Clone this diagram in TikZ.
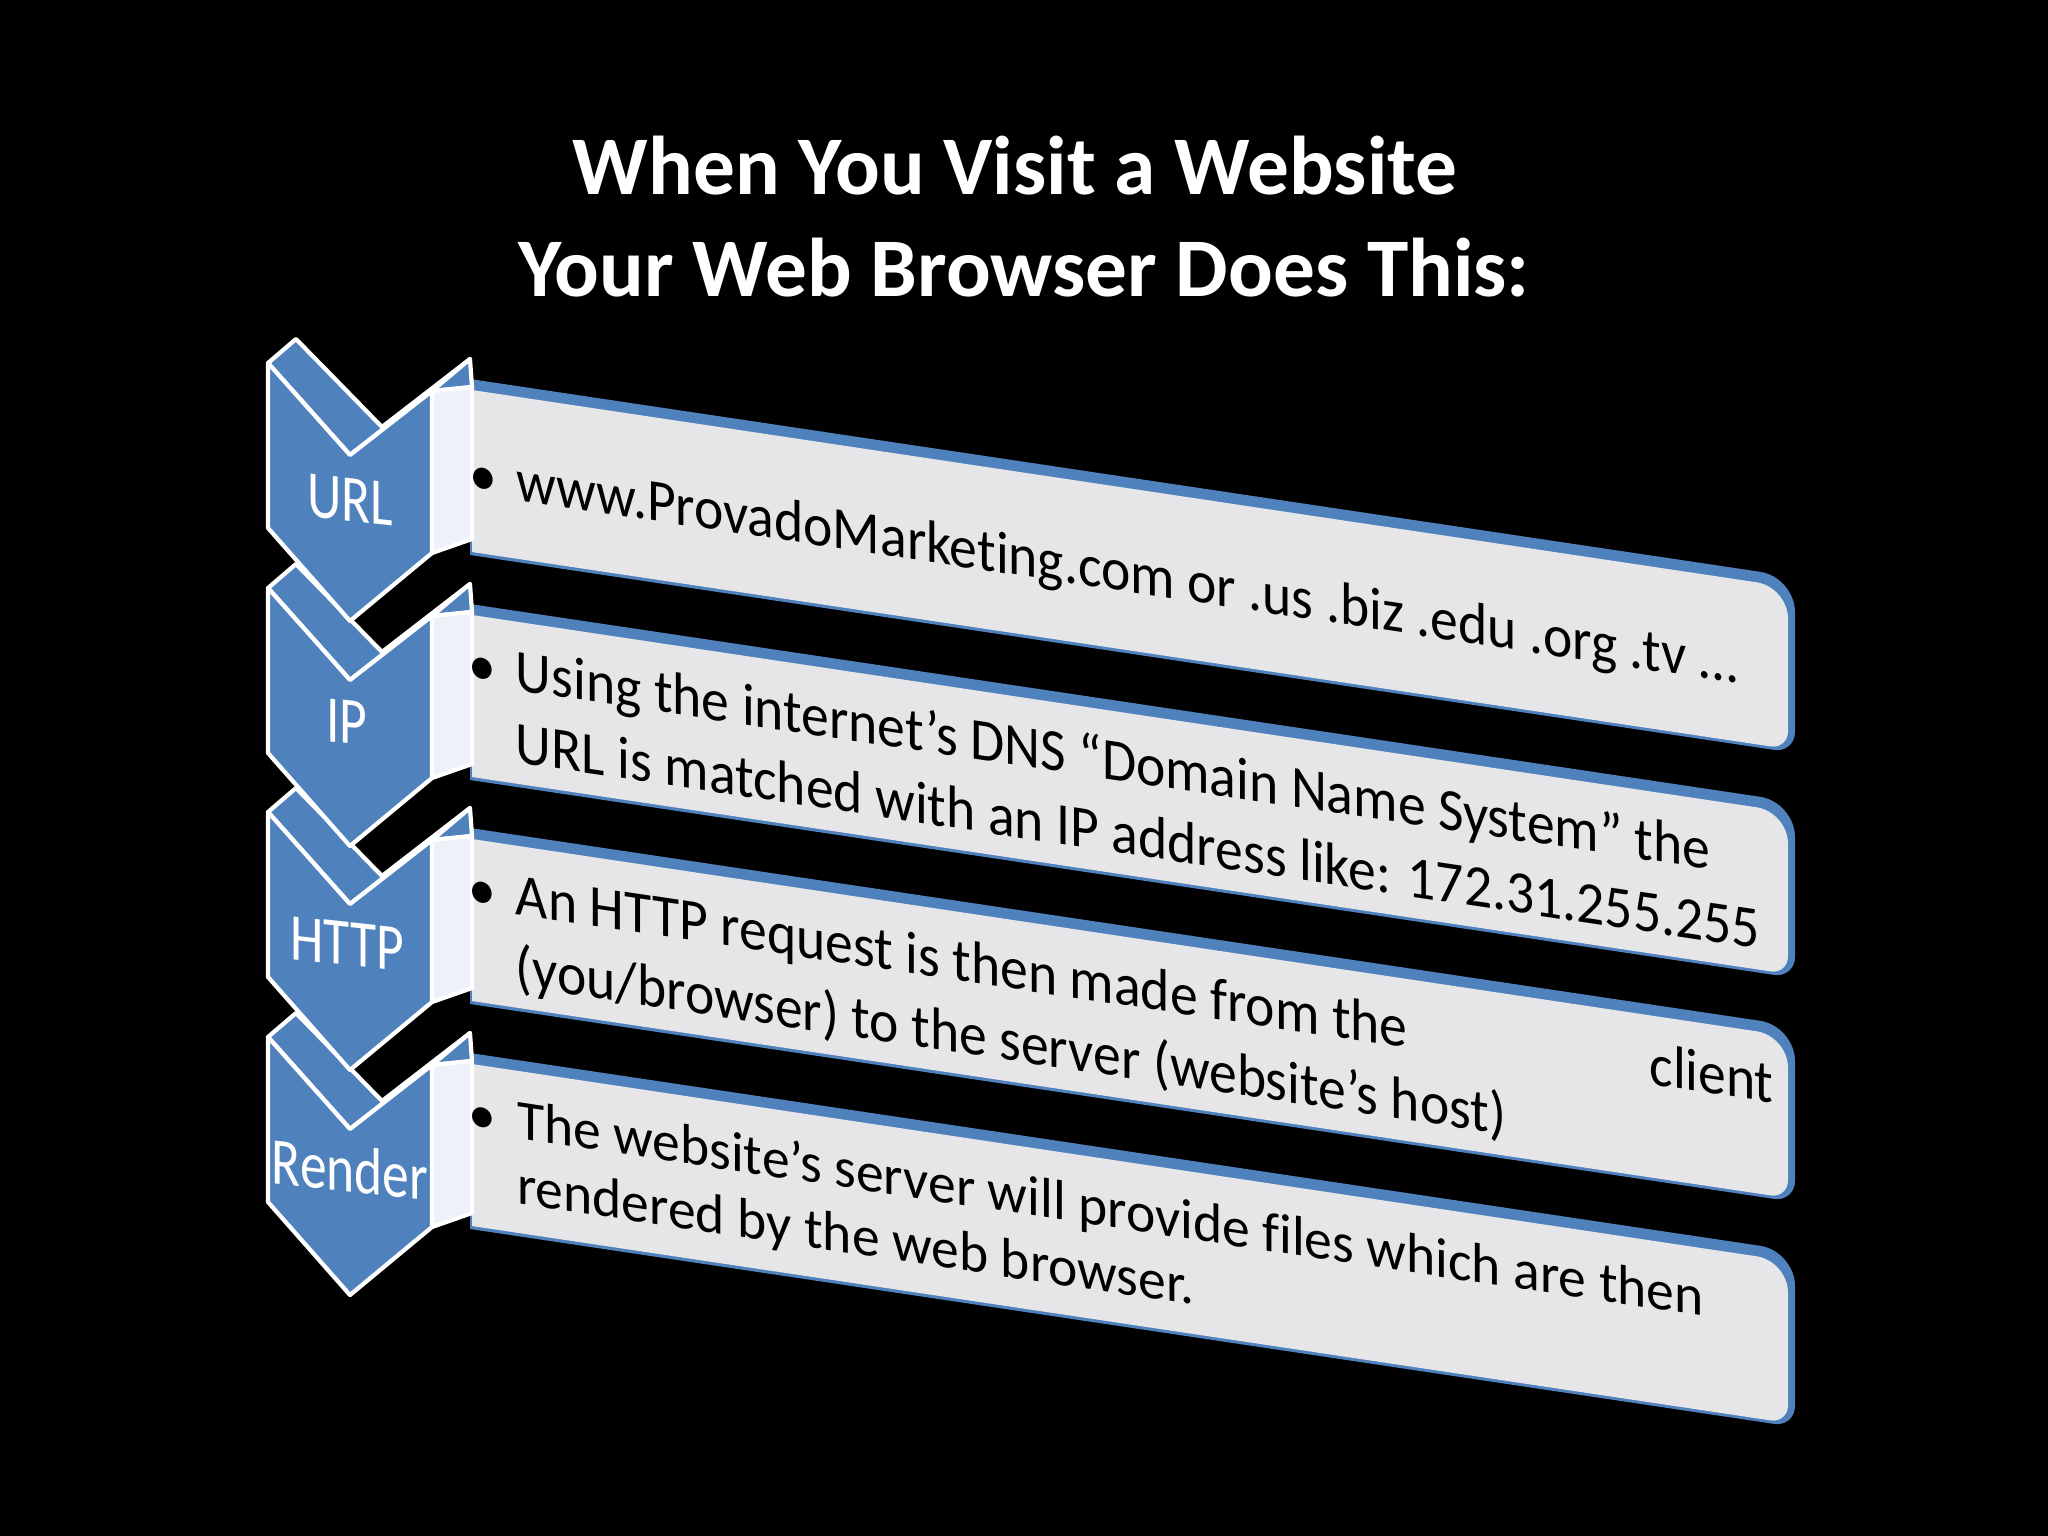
\documentclass[tikz,border=0pt]{standalone}
\usepackage{fontspec}
\setmainfont{Carlito}[Ligatures=CommonOff]
\usepackage{xcolor}
\usetikzlibrary{positioning}

\definecolor{stepblue}{RGB}{79,129,189}
\definecolor{panelgrey}{RGB}{230,230,232}
\definecolor{sidegrey}{RGB}{237,241,249}

\begin{document}
\begin{tikzpicture}[
    x=0.01cm, y=-0.01cm,
    chevface/.style={fill=stepblue,draw=white,line width=1.2pt,line join=round},
    chevside/.style={fill=sidegrey,draw=white,line width=1.2pt,line join=round},
    panelband/.style={fill=stepblue},
    panelface/.style={fill=panelgrey},
    steplabel/.style={text=white,inner sep=0pt,yslant=-0.11,xscale=0.8,font=\fontsize{19}{22}\selectfont},
    paneltext/.style={anchor=base west,inner sep=0pt,yslant=-0.15,xscale=0.93,font=\fontsize{17}{20.5}\selectfont},
    titletext/.style={text=white,inner sep=0pt,font=\bfseries\fontsize{23.7}{28}\selectfont}
    ]
    \fill[black] (0,0) rectangle (2048,1536);
    \useasboundingbox (0,0) rectangle (2048,1536);

    \node[titletext] (title1) at (1015,166) {When You Visit a Website};
    \node[titletext] (title2) at (1024,268) {Your Web Browser Does This:};

    % Render row (drawn first, the rows above overlap it)
    \begin{scope}[shift={(0,1037)}]
    \fill[panelband] (470,16) [rounded corners=10pt] -- (1795,214) [rounded corners=6pt] -- (1795,390) [sharp corners] -- (470,192) -- cycle;
    \fill[panelface] (472,27) [rounded corners=9pt] -- (1788,224) [rounded corners=5pt] -- (1788,386) [sharp corners] -- (472,189) -- cycle;
    \draw[chevface] (268,0) -- (350,92) -- (432,28) -- (470,-4) -- (382,64) -- (296,-24) -- cycle;
    \draw[chevface] (432,28) -- (470,-4) -- (472,24) -- cycle;
    \draw[chevside] (432,28) -- (472,24) -- (472,176) -- (432,190) -- cycle;
    \draw[chevface] (268,0) -- (350,92) -- (432,28) -- (432,190) -- (350,258) -- (268,165) -- cycle;
    \node[steplabel] (render) at (350,132) {Render};
    \node[paneltext,xscale=1.062,font=\fontsize{16}{18.5}\selectfont] (renderinfo) at (468,94) {\begin{tabular}[t]{@{}l@{\hspace{6pt}}l@{}}
      \textbullet & The website’s server will provide files which are then\\
      & rendered by the web browser.
    \end{tabular}};
    \end{scope}

    % HTTP row
    \begin{scope}[shift={(0,812)}]
    \fill[panelband] (470,16) [rounded corners=10pt] -- (1795,214) [rounded corners=6pt] -- (1795,390) [sharp corners] -- (470,192) -- cycle;
    \fill[panelface] (472,27) [rounded corners=9pt] -- (1788,224) [rounded corners=5pt] -- (1788,386) [sharp corners] -- (472,189) -- cycle;
    \draw[chevface] (268,0) -- (350,92) -- (432,28) -- (470,-4) -- (382,64) -- (296,-24) -- cycle;
    \draw[chevface] (432,28) -- (470,-4) -- (472,24) -- cycle;
    \draw[chevside] (432,28) -- (472,24) -- (472,176) -- (432,190) -- cycle;
    \draw[chevface] (268,0) -- (350,92) -- (432,28) -- (432,190) -- (350,258) -- (268,165) -- cycle;
    \node[steplabel] (http) at (347,132) {HTTP};
    \node[paneltext] (httpinfo) at (468,95) {\begin{tabular}[t]{@{}l@{\hspace{6pt}}l@{}}
      \textbullet & An HTTP request is then made from the\hspace{74pt}client\\
      & (you/browser) to the server (website’s host)
    \end{tabular}};
    \end{scope}

    % IP row
    \begin{scope}[shift={(0,588)}]
    \fill[panelband] (470,16) [rounded corners=10pt] -- (1795,214) [rounded corners=6pt] -- (1795,390) [sharp corners] -- (470,192) -- cycle;
    \fill[panelface] (472,27) [rounded corners=9pt] -- (1788,224) [rounded corners=5pt] -- (1788,386) [sharp corners] -- (472,189) -- cycle;
    \draw[chevface] (268,0) -- (350,92) -- (432,28) -- (470,-4) -- (382,64) -- (296,-24) -- cycle;
    \draw[chevface] (432,28) -- (470,-4) -- (472,24) -- cycle;
    \draw[chevside] (432,28) -- (472,24) -- (472,176) -- (432,190) -- cycle;
    \draw[chevface] (268,0) -- (350,92) -- (432,28) -- (432,190) -- (350,258) -- (268,165) -- cycle;
    \node[steplabel] (ip) at (347,134) {IP};
    \node[paneltext] (ipinfo) at (468,95) {\begin{tabular}[t]{@{}l@{\hspace{6pt}}l@{}}
      \textbullet & Using the internet’s DNS “Domain Name System” the\\
      & URL is matched with an IP address like: 172.31.255.255
    \end{tabular}};
    \end{scope}

    % URL row
    \begin{scope}[shift={(0,363)}]
    \fill[panelband] (470,16) [rounded corners=10pt] -- (1795,214) [rounded corners=6pt] -- (1795,390) [sharp corners] -- (470,192) -- cycle;
    \fill[panelface] (472,27) [rounded corners=9pt] -- (1788,224) [rounded corners=5pt] -- (1788,386) [sharp corners] -- (472,189) -- cycle;
    \draw[chevface] (268,0) -- (350,92) -- (432,28) -- (470,-4) -- (382,64) -- (296,-24) -- cycle;
    \draw[chevface] (432,28) -- (470,-4) -- (472,24) -- cycle;
    \draw[chevside] (432,28) -- (472,24) -- (472,176) -- (432,190) -- cycle;
    \draw[chevface] (268,0) -- (350,92) -- (432,28) -- (432,190) -- (350,258) -- (268,165) -- cycle;
    \node[steplabel] (url) at (350,137) {URL};
    \node[paneltext] (urlinfo) at (469,130) {\begin{tabular}[t]{@{}l@{\hspace{6pt}}l@{}}
      \textbullet & www.ProvadoMarketing.com or .us .biz .edu .org .tv …
    \end{tabular}};
    \end{scope}
\end{tikzpicture}
\end{document}
